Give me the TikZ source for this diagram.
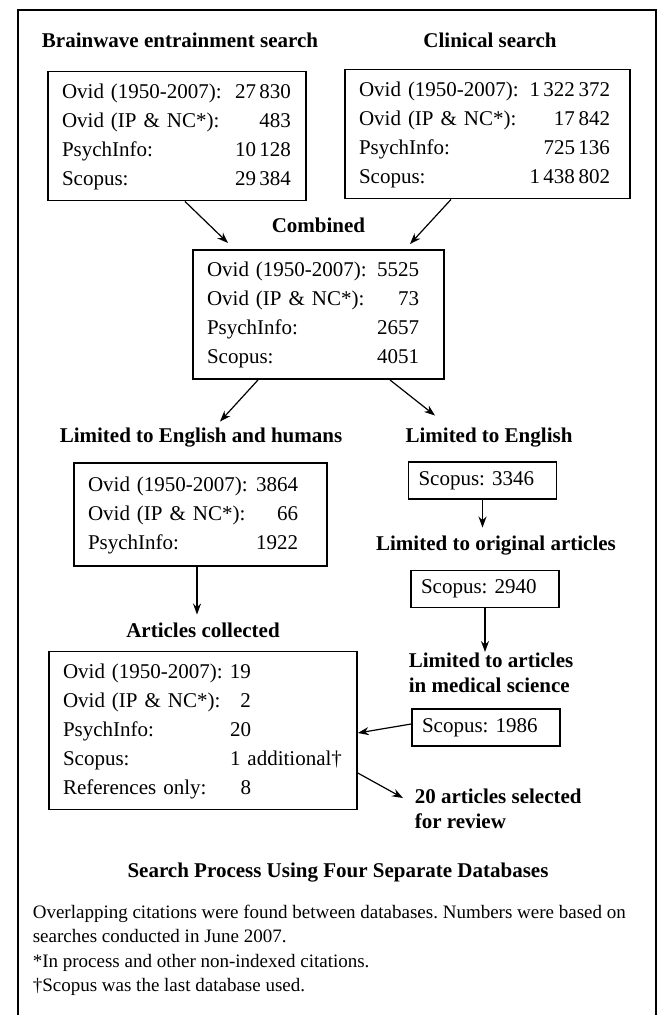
\documentclass[tikz,border=0pt]{standalone}
\usepackage{fontspec}
\setmainfont{Liberation Serif}
\usetikzlibrary{arrows.meta, calc}
\frenchspacing

\begin{document}
\begin{tikzpicture}[x=0.5pt, y=-0.5pt, line width=0.8pt,
        every node/.style={font=\fontsize{10.5}{14.5}\selectfont},
        hdr/.style={font=\fontsize{10.5}{12.5}\selectfont\bfseries, text height=7.5pt, text depth=2.5pt},
        box/.style={draw, align=left, inner xsep=7pt},
        smallbox/.style={draw, align=left, inner xsep=5pt, text width=64pt, minimum height=18.5pt},
        arr/.style={-{Stealth[length=5.5pt, width=4pt]}, line width=0.6pt}]
    \useasboundingbox (0,0) rectangle (662,1015);
    \draw (18,1015) -- (18,10) -- (656,10) -- (656,1015);

    \node[hdr] (bwe) at (180,43) {Brainwave entrainment search};
    \node[hdr] (cli) at (490,43) {Clinical search};
    \node[box, text width=115pt, minimum height=63pt] (bwebox) at (177,136) {%
        \begin{tabular*}{114.5pt}{@{}l@{\extracolsep{\fill}}r@{}}
        Ovid (1950-2007): & 27\,830\\ Ovid (IP \& NC*): & 483\\
        PsychInfo: & 10\,128\\ Scopus: & 29\,384
        \end{tabular*}};
    \node[box, text width=128.5pt, minimum height=63pt] (clibox) at (487.5,134) {%
        \begin{tabular*}{125.5pt}{@{}l@{\extracolsep{\fill}}r@{}}
        Ovid (1950-2007): & 1\,322\,372\\ Ovid (IP \& NC*): & 17\,842\\
        PsychInfo: & 725\,136\\ Scopus: & 1\,438\,802
        \end{tabular*}};

    \node[hdr] (comb) at (318.5,228) {Combined};
    \node[box, text width=111.5pt, minimum height=63.5pt] (combbox) at (318.5,314.5) {%
        \begin{tabular*}{106pt}{@{}l@{\extracolsep{\fill}}r@{}}
        Ovid (1950-2007): & 5525\\ Ovid (IP \& NC*): & 73\\
        PsychInfo: & 2657\\ Scopus: & 4051
        \end{tabular*}};
    \draw[arr] ([xshift=4pt]bwebox.south) -- ([xshift=-45.25pt, yshift=3pt]combbox.north);
    \draw[arr] ([xshift=-18.25pt]clibox.south) -- ([xshift=45.75pt, yshift=2.5pt]combbox.north);

    \node[hdr] (enghum) at (201,437) {Limited to English and humans};
    \node[hdr] (eng) at (489,437) {Limited to English};
    \draw[arr] ([xshift=-30.25pt]combbox.south) -- ([xshift=9.5pt, yshift=-1pt]enghum.north);
    \draw[arr] ([xshift=35.75pt]combbox.south) -- ([xshift=-27pt, yshift=2pt]eng.north);

    \node[box, text width=112.5pt, minimum height=51.5pt] (enghumbox) at (200.5,514.5) {%
        \begin{tabular*}{105pt}{@{}l@{\extracolsep{\fill}}r@{}}
        Ovid (1950-2007): & 3864\\ Ovid (IP \& NC*): & 66\\
        PsychInfo: & 1922
        \end{tabular*}};
    \node[smallbox] (engbox) at (482.5,480.5) {Scopus: 3346};
    \node[hdr] (orig) at (496,545) {Limited to original articles};
    \node[smallbox] (origbox) at (485,589) {Scopus: 2940};
    \node[hdr, align=left, anchor=north west, inner sep=0pt, text height=, text depth=] (med) at (408,652)
        {Limited to articles\\ in medical science};
    \node[smallbox] (medbox) at (486,727.5) {Scopus: 1986};
    \draw[arr] (engbox.south) -- (engbox.south |- orig.north);
    \draw[arr] (origbox.south) -- (origbox.south |- med.north);

    \node[hdr] (coll) at (203,632) {Articles collected};
    \draw[arr] ([xshift=-1.75pt]enghumbox.south) -- ([xshift=-1.75pt]enghumbox.south |- coll.north);
    \node[box, text width=140pt, minimum height=77.5pt] (collbox) at (203,730.5) {%
        \begin{tabular}{@{}p{83.5pt}@{}l@{}}
        Ovid (1950-2007): & 19\\ Ovid (IP \& NC*): & \hphantom{1}2\\
        PsychInfo: & 20\\ Scopus: & 1 additional\textdagger\\
        References only: & \hphantom{1}8
        \end{tabular}};
    \node[hdr, align=left, anchor=north west, inner sep=0pt, text height=, text depth=] (sel) at (414,788)
        {20 articles selected\\ for review};
    \draw[arr] ([yshift=1.75pt]medbox.west) -- ([yshift=-1.25pt]collbox.east);
    \draw[arr] ([yshift=-21.25pt]collbox.east) -- ([xshift=-5.5pt, yshift=-5pt]sel.north west);

    \node[hdr] (cap) at (338,872) {Search Process Using Four Separate Databases};
    \node[anchor=north west, inner sep=0pt, align=left, font=\fontsize{9.5}{12.3}\selectfont] (notes) at (32,904)
        {Overlapping citations were found between databases. Numbers were based on\\
         searches conducted in June 2007.\\
         *In process and other non-indexed citations.\\
         \textdagger Scopus was the last database used.};
\end{tikzpicture}
\end{document}
